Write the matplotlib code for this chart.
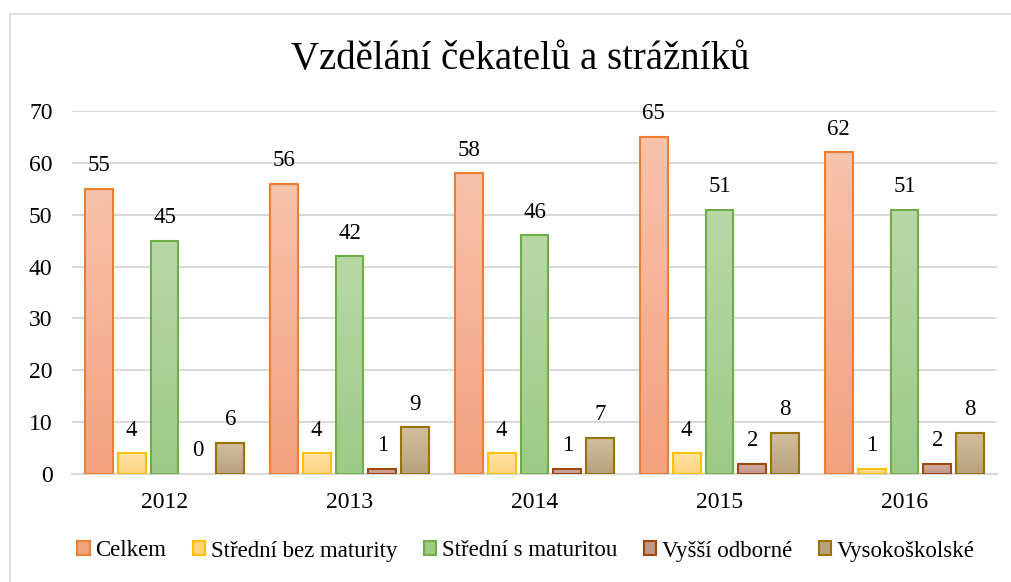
import numpy as np
import matplotlib.pyplot as plt
from matplotlib.patches import Rectangle, Patch
from matplotlib.colors import LinearSegmentedColormap

plt.rcParams['font.family'] = ['Liberation Serif', 'DejaVu Serif']

years = ['2012', '2013', '2014', '2015', '2016']
series = ['Celkem', 'Střední bez maturity', 'Střední s maturitou', 'Vyšší odborné', 'Vysokoškolské']
celkem = [55, 56, 58, 65, 62]
bez_maturity = [4, 4, 4, 4, 1]
s_maturitou = [45, 42, 46, 51, 51]
vyssi = [0, 1, 1, 2, 2]
vysokoskolske = [6, 9, 7, 8, 8]
values = [celkem, bez_maturity, s_maturitou, vyssi, vysokoskolske]

# (top colour, bottom colour, edge colour)
styles = [
    ('#F8C3AB', '#F4A17F', '#ED7D31'),
    ('#FFE3A6', '#FFD47F', '#FFC000'),
    ('#B8D8A8', '#9DCB86', '#70AD47'),
    ('#D2AFA3', '#C3968A', '#9E480E'),
    ('#D3BE9F', '#B8A17C', '#997300'),
]

fig = plt.figure(figsize=(10.12, 5.82), dpi=100)
ax = fig.add_axes([72 / 1012, 1 - 474 / 582, (997 - 72) / 1012, (474 - 111) / 582])

# chart border
fig.patches.append(Rectangle((10 / 1012, -0.1), 1.2, 1 - 14 / 582 + 0.1,
                             transform=fig.transFigure, fill=False,
                             edgecolor='#D9D9D9', linewidth=1.2))

x = np.arange(len(years))
width = 0.151
pitch = 0.178
grad = np.linspace(0, 1, 256).reshape(-1, 1)

for i, (vals, (top, bottom, edge)) in enumerate(zip(values, styles)):
    offs = (i - 2) * pitch
    cmap = LinearSegmentedColormap.from_list('g%d' % i, [bottom, top])
    for xi, v in zip(x, vals):
        left = xi + offs - width / 2
        if v > 0:
            im = ax.imshow(grad, cmap=cmap, aspect='auto', origin='lower',
                           extent=(left, left + width, 0, v), zorder=2)
            rect = Rectangle((left, 0), width, v, facecolor='none',
                             edgecolor=edge, linewidth=1.5, zorder=3)
            ax.add_patch(rect)
            im.set_clip_path(rect)
        ax.annotate(str(v), (xi + offs, v), xytext=(0, 9), textcoords='offset points',
                    ha='center', va='bottom', fontsize=16.5, color='#000000')

ax.set_xlim(-0.5, len(years) - 0.5)
ax.set_ylim(0, 70)
ax.set_yticks(range(0, 71, 10))
ax.set_xticks(x)
ax.set_xticklabels(years)
ax.tick_params(axis='both', length=0, labelsize=17, colors='#000000')
ax.tick_params(axis='x', pad=13)
ax.tick_params(axis='y', pad=14)
ax.grid(axis='y', color='#D9D9D9', linewidth=1.5, zorder=0)
ax.set_axisbelow(True)
for s in ['top', 'right', 'left']:
    ax.spines[s].set_visible(False)
ax.spines['bottom'].set_color('#D9D9D9')
ax.spines['bottom'].set_linewidth(1.5)

fig.text(0.514, 1 - 60 / 582, 'Vzdělání čekatelů a strážníků', ha='center', va='center',
         fontsize=28)

handles = [Patch(facecolor=st[1], edgecolor=st[2], linewidth=1.5) for st in styles]
fig.legend(handles, series, loc='center', bbox_to_anchor=(526 / 1012, 1 - 551 / 582), ncol=5,
           frameon=False, fontsize=16.5, handlelength=0.55, handleheight=0.55,
           handletextpad=0.25, columnspacing=1.15)

fig.savefig('out.png', dpi=100)
